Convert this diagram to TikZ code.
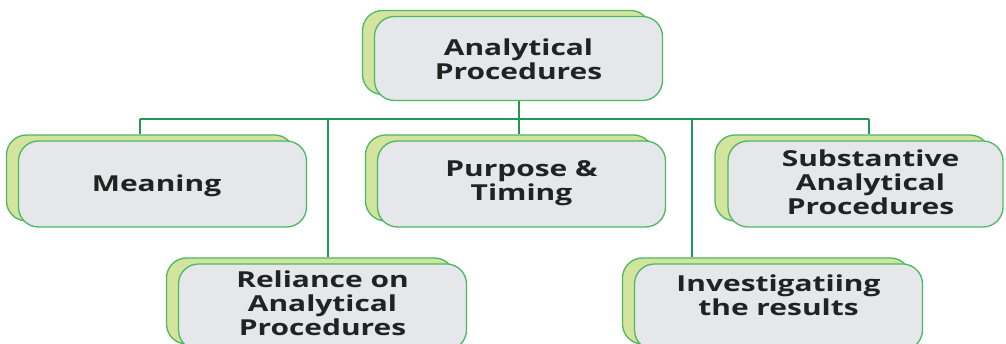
\documentclass[tikz,border=0pt]{standalone}
\usepackage{fontspec}
\setmainfont{Open Sans}
\definecolor{boxline}{HTML}{4DB862}
\definecolor{frontfill}{HTML}{E5E7EA}
\definecolor{backfill}{HTML}{D2E49E}
\definecolor{linkc}{HTML}{1F9A55}
\definecolor{txt}{HTML}{222222}
\newcommand{\widetext}[2][0pt]{\raisebox{#1}[\height][\depth]{\scalebox{1.36}[1.0]{\begin{tabular}{@{}c@{}}#2\end{tabular}}}}
\begin{document}
\begin{tikzpicture}[x=1pt,y=-1pt,
  boxbase/.style={draw=boxline, line width=1.3pt, rounded corners=20pt,
    minimum width=288pt, minimum height=86pt, inner sep=0pt},
  front/.style={boxbase, fill=frontfill, align=center,
    font=\bfseries\fontsize{22}{24}\selectfont, text=txt},
  back/.style={boxbase, fill=backfill},
  link/.style={draw=linkc, line width=2pt}]
\useasboundingbox (0,0) rectangle (1006,344);

% back shapes
\node[back, minimum height=84pt] (tb) at (506.5,52.5) {};
\node[back] (mb) at (150.5,178) {};
\node[back] (pb) at (509.5,178) {};
\node[back, minimum width=275pt] (sb) at (852.5,178) {};
\node[back] (rb) at (310.5,301) {};
\node[back] (ib) at (766.5,301) {};

% connectors
\coordinate (jl) at (140,119);
\coordinate (jr) at (869,119);
\coordinate (j2) at (328,119);
\coordinate (j3) at (519,119);
\coordinate (j4) at (692,119);
\draw[link] (jl) -- (jr);
\draw[link] (jl) -- (jl |- mb.north);
\draw[link] (j2) -- (j2 |- rb.north);
\draw[link] (j3) -- (j3 |- pb.north);
\draw[link] (j4) -- (j4 |- ib.north);
\draw[link] (jr) -- (jr |- sb.north);

% front boxes
\node[front, minimum height=84pt] (top) at (518.5,58.5) {\widetext[-4pt]{Analytical\\Procedures}};
\node[front] (mean) at (162.5,184) {\hspace*{-12pt}\widetext[-3pt]{Meaning}};
\node[front] (purp) at (521.5,184) {\widetext{Purpose \&\\Timing}};
\node[front, minimum width=275pt] (subst) at (865.5,184) {\hspace*{10pt}\widetext[-2pt]{Substantive\\Analytical\\Procedures}};
\node[front] (rel) at (322.5,307) {\widetext{Reliance on\\Analytical\\Procedures}};
\node[front] (inv) at (778.5,307) {\widetext[8pt]{Investigatiing\\the results}};

\draw[link] (top.south) -- (top.south |- j3);
\end{tikzpicture}
\end{document}
